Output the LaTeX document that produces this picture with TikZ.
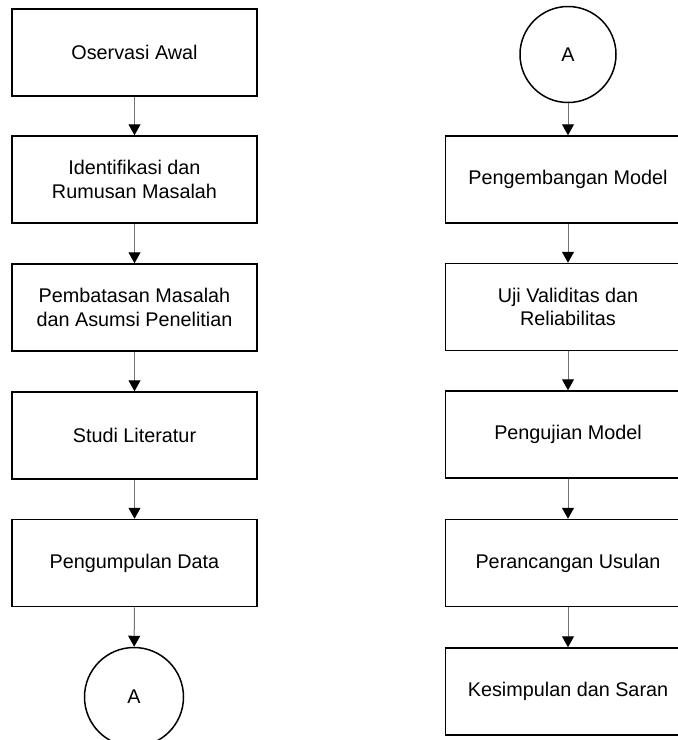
\documentclass[tikz,border=0pt]{standalone}
\usepackage{fontspec}
\setmainfont{Liberation Sans}
\usetikzlibrary{arrows.meta}
\begin{document}
\begin{tikzpicture}[x=1pt,y=-1pt,
  stepbox/.style={draw=black, line width=1.5pt, minimum width=245pt, minimum height=87pt,
    inner sep=0pt, align=center, font=\fontsize{19.8}{23.5}\selectfont, text=black},
  conn/.style={draw=black!55, line width=1pt,
    -{Triangle[width=12pt,length=11pt,color=black]}},
  circ/.style={draw=black, line width=1.5pt, circle, inner sep=0pt,
    font=\fontsize{19.8}{23.5}\selectfont, text=black}]
\useasboundingbox (0,0) rectangle (678,740);
% left column
\node[stepbox] (l1) at (134.5,52.5) {Oservasi Awal};
\node[stepbox] (l2) at (134.5,179.5) {Identifikasi dan\\Rumusan Masalah};
\node[stepbox] (l3) at (134.5,307.5) {Pembatasan Masalah\\dan Asumsi Penelitian};
\node[stepbox] (l4) at (134.5,435.5) {Studi Literatur};
\node[stepbox] (l5) at (134.5,563) {Pengumpulan Data};
\node[circ, minimum size=99pt] (la) at (134,697) {A};
% right column
\node[circ, minimum size=96pt] (ra) at (568,54.5) {A};
\node[stepbox] (r1) at (568,179.5) {Pengembangan Model};
\node[stepbox] (r2) at (568,307) {Uji Validitas dan\\Reliabilitas};
\node[stepbox] (r3) at (568,434.5) {Pengujian Model};
\node[stepbox] (r4) at (568,563) {Perancangan Usulan};
\node[stepbox] (r5) at (568,691.5) {Kesimpulan dan Saran};
% connectors
\draw[conn] (l1) -- (l2);
\draw[conn] (l2) -- (l3);
\draw[conn] (l3) -- (l4);
\draw[conn] (l4) -- (l5);
\draw[conn] (l5) -- (la);
\draw[conn] (ra) -- (r1);
\draw[conn] (r1) -- (r2);
\draw[conn] (r2) -- (r3);
\draw[conn] (r3) -- (r4);
\draw[conn] (r4) -- (r5);
\end{tikzpicture}
\end{document}
